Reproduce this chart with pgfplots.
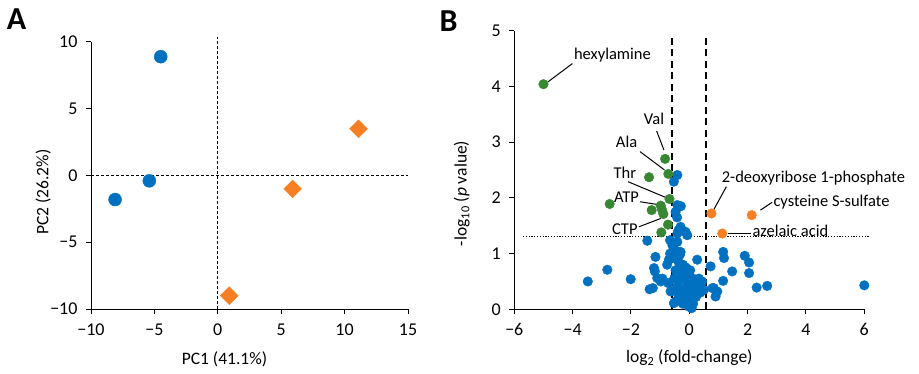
\documentclass[border=0pt]{standalone}
\usepackage{fontspec}
\setmainfont{Carlito}
\usepackage{pgfplots}
\usepackage{pgfplotstable}
\pgfplotsset{compat=1.18}
\definecolor{pblue}{RGB}{0,112,192}
\definecolor{pgreen}{RGB}{56,135,50}
\definecolor{porange}{RGB}{247,127,35}

\pgfplotstableread{
x y
-8.1 -1.8
-5.4 -0.4
-4.5 8.9
}\pcablue
\pgfplotstableread{
x y
0.9 -9.0
5.9 -1.0
11.1 3.5
}\pcaorange

\pgfplotstableread{
x y
-3.48 0.50
-2.81 0.71
-2.01 0.54
-1.44 1.23
-1.36 0.36
-1.25 0.38
-1.16 0.94
-1.21 0.74
-1.18 0.68
-1.10 0.56
-0.98 0.50
-0.92 0.55
-0.76 0.80
-0.70 0.89
-0.66 1.24
-0.66 1.00
-0.72 0.47
-0.64 0.32
-0.53 0.11
-0.47 0.14
-0.41 2.41
-0.53 2.29
-0.41 1.87
-0.29 1.85
-0.47 1.75
-0.42 1.65
-0.30 1.48
-0.37 1.42
-0.13 1.39
-0.41 1.36
-0.07 1.33
-0.58 1.15
-0.41 1.21
-0.30 1.03
-0.47 1.05
-0.32 0.98
-0.52 0.92
-0.37 0.85
-0.22 0.80
-0.12 0.75
-0.47 0.70
-0.27 0.65
0.03 0.70
0.13 0.55
0.18 0.45
-0.17 0.55
-0.37 0.50
-0.07 0.45
0.08 0.40
-0.27 0.35
-0.02 0.30
0.18 0.30
-0.17 0.25
0.03 0.20
0.23 0.22
-0.37 0.25
-0.07 0.15
0.13 0.10
-0.02 0.05
-0.22 0.10
-0.42 0.40
-0.52 0.55
0.28 0.40
-0.07 0.60
0.33 0.55
0.38 0.30
-0.32 0.15
0.08 0.02
0.23 0.45
0.27 0.89
0.44 0.50
0.50 0.35
0.73 0.77
0.79 0.38
0.84 0.38
0.96 0.32
0.90 0.23
1.16 1.03
1.19 0.92
1.16 0.51
1.47 0.68
1.90 0.96
2.05 0.84
2.05 0.65
2.31 0.39
2.67 0.42
6.00 0.43
}\volblue
\pgfplotstableread{
x y
-5.00 4.04
-0.83 2.70
-0.72 2.43
-1.38 2.37
-0.68 1.98
-2.73 1.89
-0.98 1.86
-1.29 1.78
-0.93 1.78
-0.89 1.71
-0.73 1.52
-0.96 1.38
}\volgreen
\pgfplotstableread{
x y
0.76 1.72
2.14 1.69
1.13 1.36
}\volorange

\pgfplotsset{mystyle/.style={
  scale only axis,
  axis x line*=bottom, axis y line*=left,
  axis line style={line width=1bp, -},
  tick align=outside, major tick length=5bp,
  tick style={line width=1bp, black},
  ticklabel style={font=\fontsize{18bp}{20bp}\selectfont},
  xticklabel style={yshift=-6bp},
  yticklabel style={xshift=-5bp},
  label style={font=\fontsize{17.5bp}{20bp}\selectfont},
  clip=false,
  /pgf/number format/assume math mode=true,
}}

\begin{document}
\begin{tikzpicture}
\useasboundingbox (0bp,0bp) rectangle (919bp,374bp);
\node[font=\fontsize{32bp}{34bp}\selectfont\bfseries] at (16.5bp,354.5bp) {A};
\node[font=\fontsize{32bp}{34bp}\selectfont\bfseries] at (448.5bp,353bp) {B};

\begin{axis}[mystyle, at={(91bp,65bp)}, anchor=south west,
  width=317bp, height=267bp,
  xmin=-10, xmax=15, ymin=-10, ymax=10,
  xtick={-10,-5,0,5,10,15}, xticklabels={−10,−5,0,5,10,15},
  ytick={-10,-5,0,5,10}, yticklabels={−10,−5,0,5,10},
  xlabel={PC1 (41.1\%)}, ylabel={PC2 (26.2\%)},
  xlabel style={at={(axis description cs:0.421,0)}, anchor=center, yshift=-50bp},
  ylabel style={at={(axis description cs:-0.151,0.438)}, anchor=center},
]
\addplot[only marks, mark=*, mark size=6.5bp, color=pblue] table[x=x,y=y]{\pcablue};
\addplot[only marks, mark=square*, mark size=6.3bp, mark options={rotate=45}, color=porange] table[x=x,y=y]{\pcaorange};
\draw[black, line width=0.8bp, dash pattern=on 3bp off 2bp] (axis cs:-10,0) -- (axis cs:15,0);
\draw[black, line width=0.8bp, dash pattern=on 3bp off 2bp] (axis cs:0,-10) -- (axis cs:0,10.35);
\end{axis}

\begin{axis}[mystyle, at={(514.3bp,64.7bp)}, anchor=south west,
  width=350bp, height=278.6bp,
  xmin=-6, xmax=6, ymin=0, ymax=5,
  xtick={-6,-4,-2,0,2,4,6}, xticklabels={−6,−4,−2,0,2,4,6},
  ytick={0,1,2,3,4,5}, yticklabels={0,1,2,3,4,5},
  xlabel={log\textsubscript{2} (fold-change)}, ylabel={-log\textsubscript{10} (\textit{p} value)},
  xlabel style={at={(axis description cs:0.5,0)}, anchor=center, yshift=-48.7bp},
  ylabel style={at={(axis description cs:-0.150,0.416)}, anchor=center},
]
\addplot[only marks, mark=*, mark size=4.8bp, color=pblue] table[x=x,y=y]{\volblue};
\addplot[only marks, mark=*, mark size=4.8bp, color=pgreen] table[x=x,y=y]{\volgreen};
\addplot[only marks, mark=*, mark size=4.8bp, color=porange] table[x=x,y=y]{\volorange};
\draw[black, line width=2bp, dash pattern=on 7bp off 4.5bp] (axis cs:-0.585,0) -- (axis cs:-0.585,4.88);
\draw[black, line width=2bp, dash pattern=on 7bp off 4.5bp] (axis cs:0.585,0) -- (axis cs:0.585,4.88);
\draw[black, line width=1bp, dash pattern=on 1.2bp off 1.6bp] (axis cs:-5.7,1.301) -- (axis cs:6.15,1.301);
\begin{scope}[every node/.style={font=\fontsize{16.5bp}{18bp}\selectfont, inner sep=0pt}]
\node[anchor=west] at (axis cs:-3.96,4.56) {hexylamine};
\draw[line width=1bp] (axis cs:-4.01,4.41) -- (axis cs:-4.85,4.08);
\node at (axis cs:-1.21,3.41) {Val};
\draw[line width=1bp] (axis cs:-1.12,3.20) -- (axis cs:-0.87,2.86);
\node at (axis cs:-2.15,3.01) {Ala};
\draw[line width=1bp] (axis cs:-1.69,2.83) -- (axis cs:-0.85,2.50);
\node at (axis cs:-2.21,2.45) {Thr};
\draw[line width=1bp] (axis cs:-2.10,2.29) -- (axis cs:-0.82,2.01);
\node at (axis cs:-2.15,2.02) {ATP};
\draw[line width=1bp] (axis cs:-1.69,1.93) -- (axis cs:-1.08,1.88);
\node at (axis cs:-2.21,1.44) {CTP};
\draw[line width=1bp] (axis cs:-1.73,1.48) -- (axis cs:-0.98,1.63);
\node[anchor=west] at (axis cs:1.11,2.35) {2-deoxyribose 1-phosphate};
\draw[line width=1bp] (axis cs:1.27,2.20) -- (axis cs:0.84,1.79);
\node[anchor=west] at (axis cs:2.88,1.93) {cysteine S-sulfate};
\draw[line width=1bp] (axis cs:2.84,1.92) -- (axis cs:2.44,1.78);
\node[anchor=west] at (axis cs:2.16,1.41) {azelaic acid};
\draw[line width=1bp] (axis cs:1.32,1.36) -- (axis cs:2.12,1.36);
\end{scope}
\end{axis}
\end{tikzpicture}
\end{document}
